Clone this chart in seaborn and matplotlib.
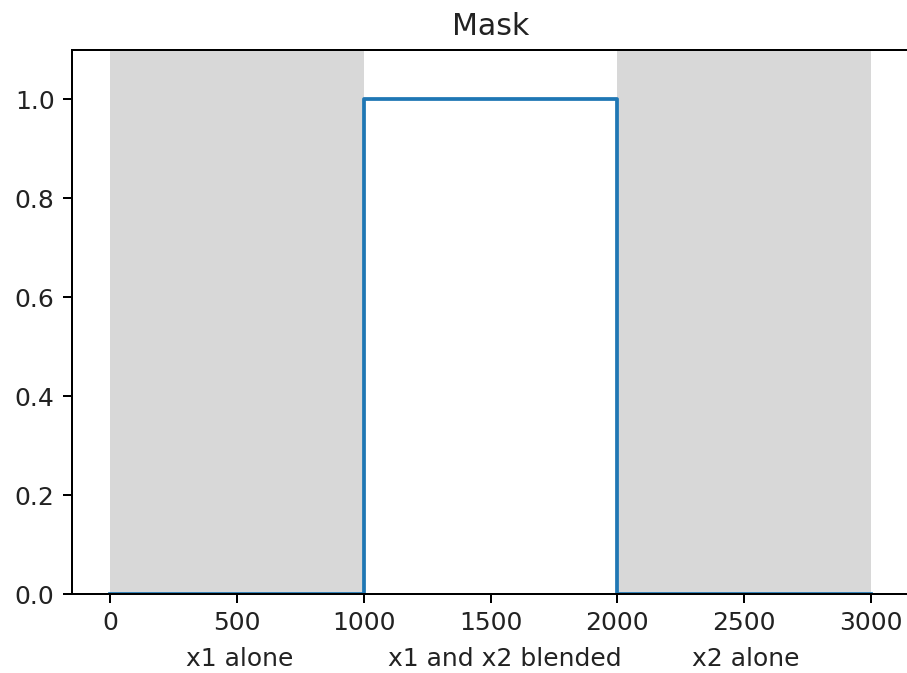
import matplotlib
matplotlib.use("Agg")
import matplotlib.pyplot as plt
import matplotlib.transforms as mtransforms
import seaborn as sns
import pandas as pd

# Mask profile: breakpoints of the step function
mask_x = [0, 1000, 1000, 2000, 2000, 3000]
mask_y = [0, 0, 1, 1, 0, 0]

# Shaded regions where only one signal is present
span_starts = [0, 2000]
span_ends = [1000, 3000]

# Region captions under the x axis
region_labels = ["x1 alone", "x1 and x2 blended", "x2 alone"]
region_centers = [510, 1555, 2505]

plt.rcParams["font.family"] = ["DejaVu Sans"]
plt.rcParams["text.color"] = "#222222"
plt.rcParams["xtick.labelcolor"] = "#222222"
plt.rcParams["ytick.labelcolor"] = "#222222"

fig = plt.figure(figsize=(907 / 180, 673 / 180), dpi=180)
ax = fig.add_axes([72 / 907, 1 - 594 / 673, 837 / 907, (594 - 50) / 673])

for s, e in zip(span_starts, span_ends):
    ax.axvspan(s, e, color="gray", alpha=0.3, lw=0, zorder=0)

df = pd.DataFrame({"t": mask_x, "mask": mask_y})
sns.lineplot(data=df, x="t", y="mask", sort=False, estimator=None,
             color="#1f77b4", lw=1.5, ax=ax)

ax.set_xlim(-150, 3150)
ax.set_ylim(0, 1.1)
ax.set_xticks([0, 500, 1000, 1500, 2000, 2500, 3000])
ax.set_yticks([0.0, 0.2, 0.4, 0.6, 0.8, 1.0])
ax.set_xlabel("")
ax.set_ylabel("")
ax.set_title("Mask")

trans = mtransforms.blended_transform_factory(ax.transData, ax.transAxes)
for lbl, cx in zip(region_labels, region_centers):
    ax.text(cx, -0.12, lbl, transform=trans, ha="center", va="center")

fig.savefig("out.png", dpi=180)
